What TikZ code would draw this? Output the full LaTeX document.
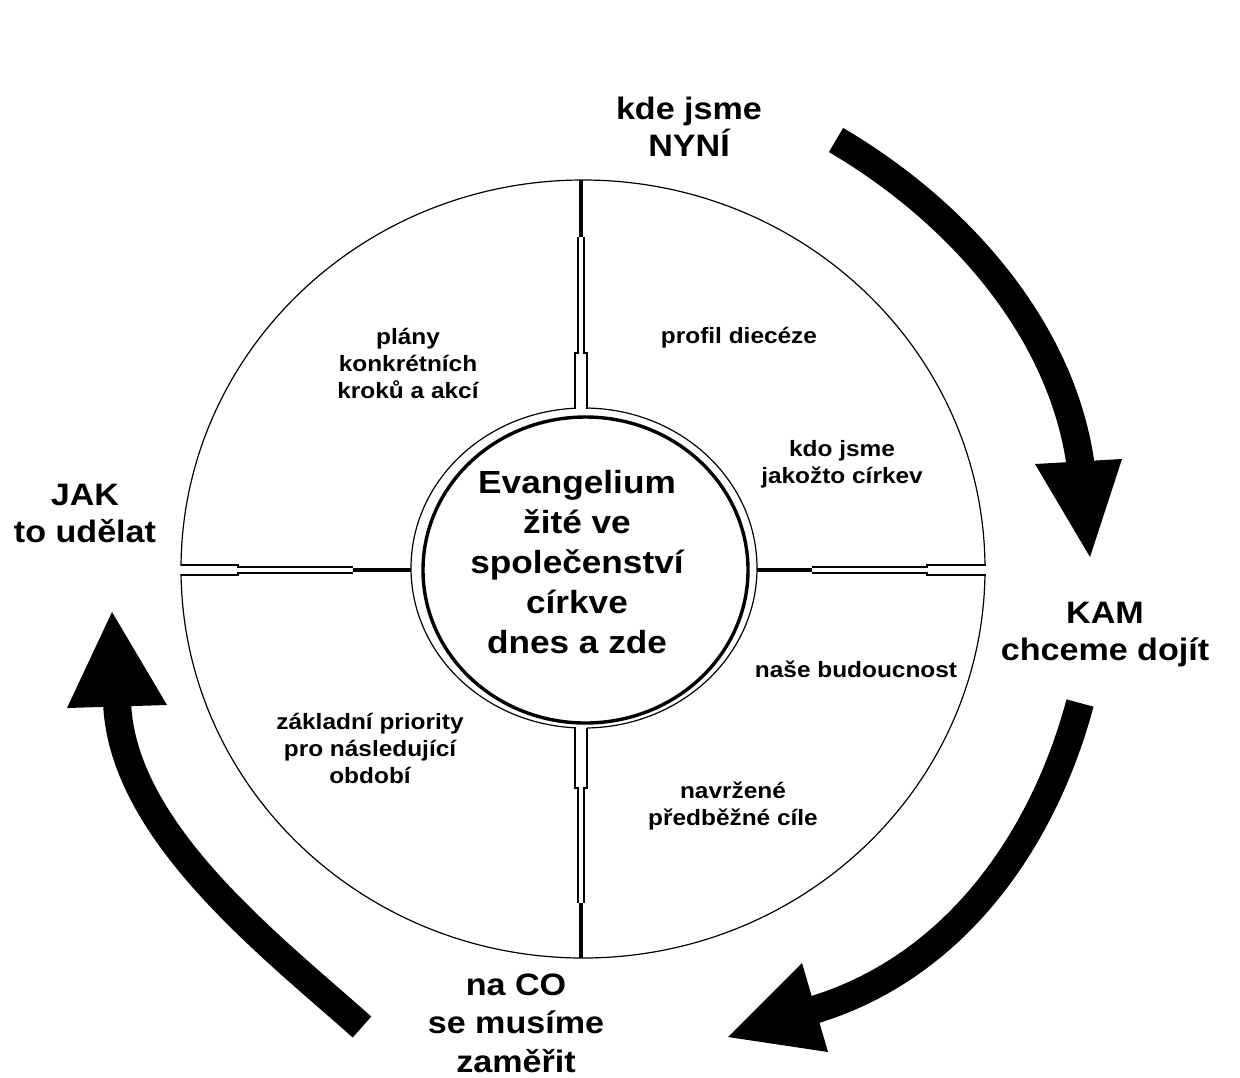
\documentclass[tikz,border=0pt]{standalone}
\usepackage{fontspec}
\setmainfont{Liberation Sans}[FakeStretch=1.1]
\usetikzlibrary{shapes.geometric}
\begin{document}
\begin{tikzpicture}[x=0.5pt,y=-0.5pt,
  thinline/.style={line width=0.6pt},
  dbl/.style={line width=1pt},
  thickspoke/.style={line width=2pt},
  bigarrow/.style={line width=14pt,line cap=butt},
  arrowhead/.style={fill=black},
  outerlbl/.style={font=\bfseries\fontsize{15.5}{18.5}\selectfont, align=center, anchor=base, inner sep=0pt},
  quad/.style={font=\bfseries\fontsize{11.1}{13.3}\selectfont, align=center, anchor=base, inner sep=0pt},
  corelbl/.style={font=\bfseries\fontsize{16}{20}\selectfont, align=center, anchor=base, inner sep=0pt},
]
\useasboundingbox (0,0) rectangle (1240,1077);
\fill[white] (0,0) rectangle (1240,1077);

% outer circle and inner ring
\coordinate (C) at (583,569);
\draw[thinline] (C) ellipse [x radius=402, y radius=389];
\draw[thinline] (584,568) ellipse [x radius=173, y radius=160];
\node[draw, line width=1.7pt, ellipse, minimum width=162.5pt, minimum height=153pt, inner sep=0pt] (core) at (585.5,570) {};

% openings where double spokes meet the circles
\fill[white] (175,565.6) rectangle (187,574.4);
\fill[white] (979,565.6) rectangle (991,574.4);
\fill[white] (575.9,403) rectangle (586.6,412.5);
\fill[white] (575.9,725.8) rectangle (586.6,733);

% top spoke
\draw[thickspoke] (581,180) -- (581,237);
\draw[dbl] (577.6,237) -- (577.6,353) -- (575,353) -- (575,408.5);
\draw[dbl] (584.4,237) -- (584.4,353) -- (587,353) -- (587,408.5);
% bottom spoke
\draw[dbl] (575,727.8) -- (575,788) -- (577.6,788) -- (577.6,903);
\draw[dbl] (587,727.8) -- (587,788) -- (584.4,788) -- (584.4,903);
\draw[thickspoke] (581,903) -- (581,958);
% left spoke
\draw[dbl] (180.5,565) -- (238,565) -- (238,566.7) -- (353,566.7);
\draw[dbl] (180.5,575) -- (238,575) -- (238,573.3) -- (353,573.3);
\draw[thickspoke] (353,570) -- (411,570);
% right spoke
\draw[thickspoke] (757,570) -- (812,570);
\draw[dbl] (812,566.7) -- (927,566.7) -- (927,565) -- (985.5,565);
\draw[dbl] (812,573.3) -- (927,573.3) -- (927,575) -- (985.5,575);

% big arrows
\coordinate (a1s) at (836,140);
\coordinate (a1e) at (1081,468);
\draw[bigarrow] (a1s) .. controls (957,211) and (1063,329) .. (a1e);
\fill[arrowhead] (1035,464) -- (1122,459) -- (1090,557) -- cycle;

\coordinate (a2s) at (1080,703);
\coordinate (a2e) at (810,1011);
\draw[bigarrow] (a2s) .. controls (1043,841) and (954,969) .. (a2e);
\fill[arrowhead] (802,963) -- (828,1052) -- (728,1037) -- cycle;

\coordinate (a3s) at (362,1027);
\coordinate (a3e) at (117,700);
\draw[bigarrow] (a3s) .. controls (270,945) and (120,830) .. (a3e);
\fill[arrowhead] (67,708) -- (167,705) -- (112,612) -- cycle;

% outer labels (anchor = baseline of last line)
\node[outerlbl] (now) at (689,156) {kde jsme\\NYNÍ};
\node[outerlbl] (where) at (1105,660) {KAM\\chceme dojít};
\node[outerlbl, font=\bfseries\fontsize{15.5}{19.2}\selectfont] (what) at (516,1072) {na CO\\se musíme\\zaměřit};
\node[outerlbl] (how) at (85,542) {JAK\\to udělat};

% centre
\node[corelbl] (coretext) at (577,653) {Evangelium\\žité ve\\společenství\\církve\\dnes a zde};

% quadrant texts
\node[quad] (q1) at (408,398) {plány\\konkrétních\\kroků a akcí};
\node[quad] (q2a) at (739,343) {profil diecéze};
\node[quad] (q2b) at (842,483) {kdo jsme\\jakožto církev};
\node[quad] (q3a) at (856,677) {naše budoucnost};
\node[quad] (q3b) at (733,825) {navržené\\předběžné cíle};
\node[quad] (q4) at (370,783) {základní priority\\pro následující\\období};
\end{tikzpicture}
\end{document}
